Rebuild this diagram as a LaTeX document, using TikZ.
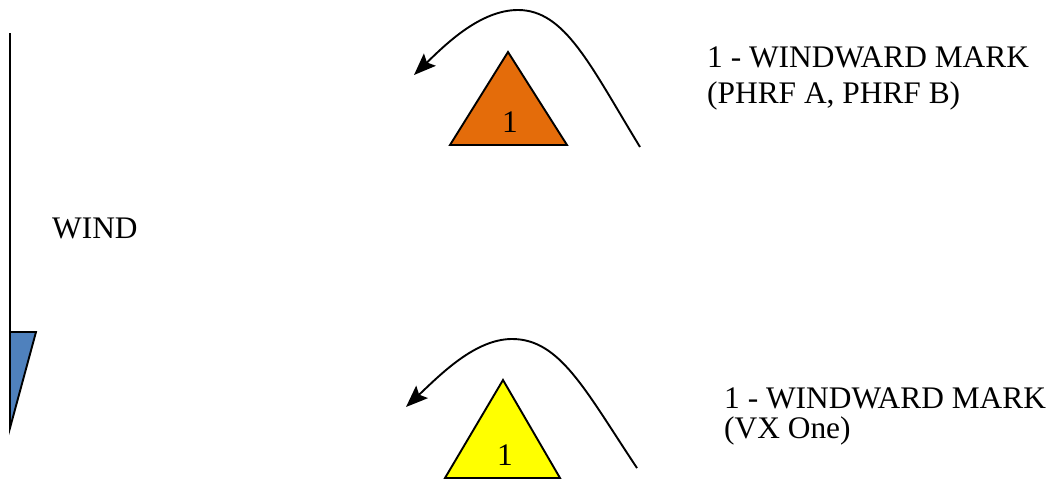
\documentclass[tikz,border=0pt]{standalone}
\usepackage{fontspec}
\setmainfont{Liberation Serif}
\usetikzlibrary{arrows.meta}
\definecolor{flagblue}{RGB}{79,129,189}
\definecolor{markorange}{RGB}{228,108,10}
\definecolor{markyellow}{RGB}{255,255,0}
\tikzset{
  txt/.style={font=\fontsize{31.4}{36}\selectfont, inner sep=0pt, anchor=base west},
  num/.style={font=\fontsize{31.4}{36}\selectfont, inner sep=0pt, anchor=base},
  outline/.style={draw=black, line width=1.9pt, line join=miter},
  rounding/.style={draw=black, line width=1.9pt, -{Stealth[length=22pt,width=17pt,inset=4pt]}},
}
\begin{document}
\begin{tikzpicture}[x=1pt,y=-1pt]
\useasboundingbox (0,0) rectangle (1055,479);
% wind indicator
\coordinate (poletop) at (10,33);
\coordinate (polebot) at (10,428);
\coordinate (flagtr) at (36,332);
\coordinate (flagtl) at (10,332);
\draw[outline, fill=flagblue] (flagtl) -- (flagtr) -- (polebot) -- cycle;
\draw[line width=1.9pt] (poletop) -- (polebot);
\node[txt] (wind) at (52,238) {WIND};
% top mark
\coordinate (m1a) at (508,52);
\coordinate (m1l) at (450,145);
\coordinate (m1r) at (567,145);
\draw[outline, fill=markorange] (m1a) -- (m1r) -- (m1l) -- cycle;
\node[num] (n1) at (510,132) {1};
\coordinate (c1s) at (640,147);
\coordinate (c1p) at (518,10);
\coordinate (c1e) at (414,75);
\draw[rounding] (c1s) .. controls (590,65) and (565,10) .. (c1p) .. controls (480,10) and (445,45) .. (c1e);
\node[txt] (l1a) at (707,67) {1 - WINDWARD MARK};
\node[txt] (l1b) at (707,103) {(PHRF A, PHRF B)};
% bottom mark
\coordinate (m2a) at (503,380);
\coordinate (m2l) at (445,478);
\coordinate (m2r) at (560,478);
\draw[outline, fill=markyellow] (m2a) -- (m2r) -- (m2l) -- cycle;
\node[num] (n2) at (505,465) {1};
\coordinate (c2s) at (637,468);
\coordinate (c2p) at (512,339);
\coordinate (c2e) at (406,407);
\draw[rounding] (c2s) .. controls (585,390) and (560,339) .. (c2p) .. controls (475,339) and (440,375) .. (c2e);
\node[txt] (l2a) at (724,408) {1 - WINDWARD MARK};
\node[txt] (l2b) at (724,438) {(VX One)};
\end{tikzpicture}
\end{document}
